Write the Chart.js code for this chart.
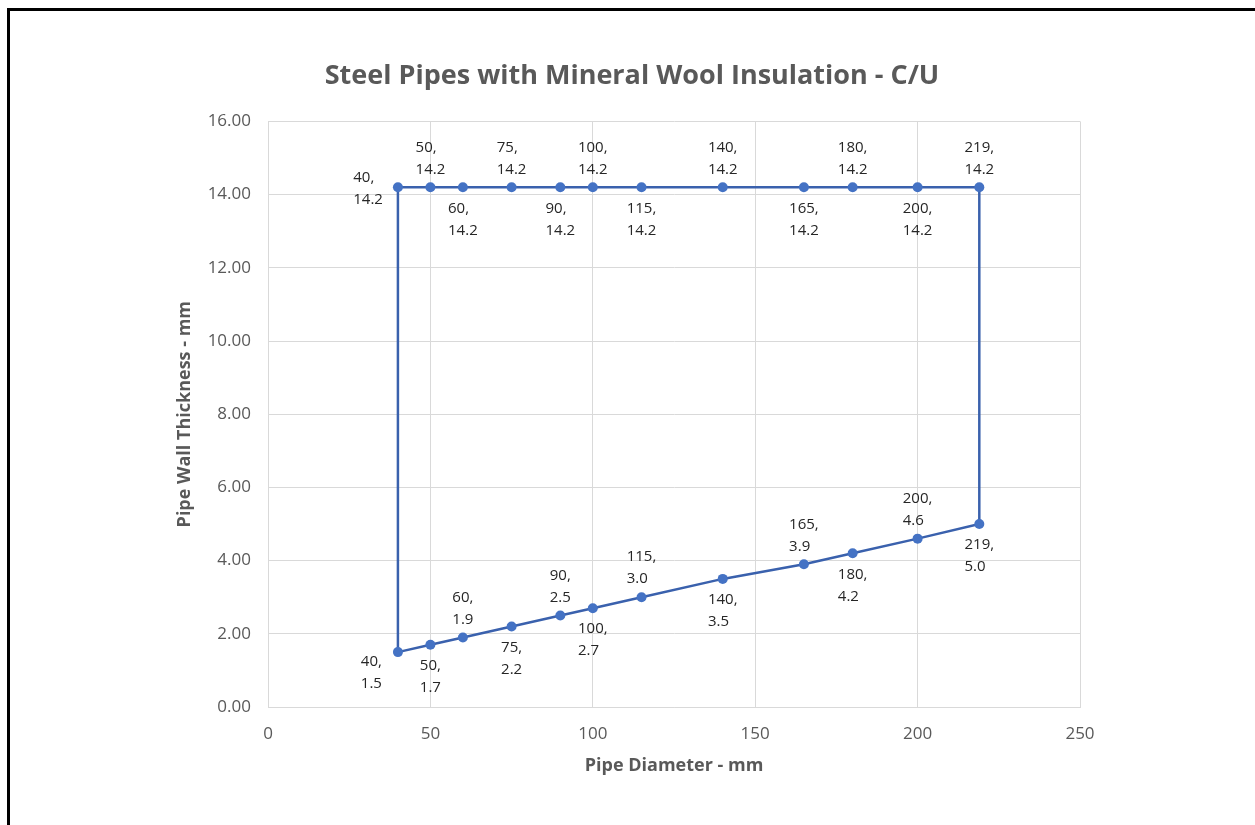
<!DOCTYPE html>
<html>
<head>
<meta charset="utf-8">
<script src="https://cdn.jsdelivr.net/npm/chart.js@4"></script>
<style>
  html, body { margin: 0; padding: 0; background: #fff; }
  #wrap { position: relative; width: 1255px; height: 825px; overflow: hidden; }
  #frame { position: absolute; left: 7px; top: 8px; width: 1300px; height: 900px;
           border-left: 3px solid #000; border-top: 3px solid #000; pointer-events: none; }
  canvas { position: absolute; left: 0; top: 0; }
</style>
</head>
<body>
<div id="wrap">
  <canvas id="chart" width="1255" height="825"></canvas>
  <div id="frame"></div>
</div>
<script>
// Pipe diameters (mm) and the wall thickness envelope (mm)
const diameters = [40, 50, 60, 75, 90, 100, 115, 140, 165, 180, 200, 219];
const minThickness = [1.5, 1.7, 1.9, 2.2, 2.5, 2.7, 3.0, 3.5, 3.9, 4.2, 4.6, 5.0];
const maxThickness = [14.2, 14.2, 14.2, 14.2, 14.2, 14.2, 14.2, 14.2, 14.2, 14.2, 14.2, 14.2];
const xTicks = [0, 50, 100, 150, 200, 250];
const yTicks = [0, 2, 4, 6, 8, 10, 12, 14, 16];

// Where each data label sits relative to its point
const lowerPlacement = ['belowLeft', 'below', 'above', 'below', 'above', 'below', 'above', 'below', 'above', 'below', 'above', 'below'];
const upperPlacement = ['left', 'above', 'below', 'above', 'below', 'above', 'below', 'above', 'below', 'above', 'below', 'above'];

const lowerPts = diameters.map((d, i) => ({ x: d, y: minThickness[i] }));
const upperPts = diameters.map((d, i) => ({ x: d, y: maxThickness[i] }));
// Closed outline: along the lower curve, up the right side, back along the top, down the left side
const outline = lowerPts.concat(upperPts.slice().reverse(), [lowerPts[0]]);

const LINE = '#3a61ad';
const MARK = '#4472c4';

const pointLabels = {
  id: 'pointLabels',
  afterDatasetsDraw(chart) {
    const ctx = chart.ctx;
    ctx.save();
    ctx.font = '15px "Open Sans"';
    ctx.fillStyle = '#262626';
    ctx.textBaseline = 'middle';
    ctx.textAlign = 'left';
    chart.data.datasets.forEach((ds, di) => {
      if (!ds.placement) return;
      const meta = chart.getDatasetMeta(di);
      meta.data.forEach((el, i) => {
        const v = ds.data[i];
        const l1 = v.x + ',';
        const l2 = v.y.toFixed(1);
        const w = Math.max(ctx.measureText(l1).width, ctx.measureText(l2).width);
        let left, y1;
        switch (ds.placement[i]) {
          case 'above': left = el.x - w / 2; y1 = el.y - 40; break;
          case 'below': left = el.x - w / 2; y1 = el.y + 21; break;
          case 'left': left = el.x - 15 - w; y1 = el.y - 10; break;
          case 'belowLeft': left = el.x - 16 - w; y1 = el.y + 10; break;
        }
        ctx.fillText(l1, left, y1);
        ctx.fillText(l2, left, y1 + 22);
      });
    });
    ctx.restore();
  }
};

new Chart(document.getElementById('chart'), {
  type: 'scatter',
  data: {
    datasets: [
      { data: outline, showLine: true, borderColor: LINE, borderWidth: 2.5, pointRadius: 0, pointHoverRadius: 0, order: 2 },
      { data: lowerPts, placement: lowerPlacement, showLine: false, pointRadius: 5, backgroundColor: MARK, borderColor: MARK, borderWidth: 0, order: 1 },
      { data: upperPts, placement: upperPlacement, showLine: false, pointRadius: 5, backgroundColor: MARK, borderColor: MARK, borderWidth: 0, order: 1 }
    ]
  },
  options: {
    responsive: false,
    animation: false,
    events: [],
    layout: { padding: { left: 184, right: 175, top: 0, bottom: 40 } },
    plugins: {
      legend: { display: false },
      tooltip: { enabled: false },
      title: {
        display: true,
        text: 'Steel Pipes with Mineral Wool Insulation - C/U',
        color: '#595959',
        font: { family: '"Open Sans"', size: 27, weight: 'bold' },
        padding: { top: 60, bottom: 29 }
      }
    },
    scales: {
      x: {
        type: 'linear', min: 0, max: 250,
        afterBuildTicks: s => { s.ticks = xTicks.map(v => ({ value: v })); },
        afterFit: s => { s.height = 78; },
        grid: { color: '#d9d9d9', drawTicks: false },
        border: { color: '#d9d9d9' },
        ticks: { color: '#595959', padding: 17, font: { family: '"Open Sans"', size: 17 } },
        title: { display: true, text: 'Pipe Diameter - mm', color: '#595959',
                 font: { family: '"Open Sans"', size: 18, weight: 'bold' }, padding: { top: 0, bottom: 8 } }
      },
      y: {
        type: 'linear', min: 0, max: 16,
        afterBuildTicks: s => { s.ticks = yTicks.map(v => ({ value: v })); },
        afterFit: s => { s.width = 84; },
        grid: { color: '#d9d9d9', drawTicks: false },
        border: { color: '#d9d9d9' },
        ticks: { color: '#595959', padding: 17, font: { family: '"Open Sans"', size: 17 },
                 callback: v => Number(v).toFixed(2) },
        title: { display: true, text: 'Pipe Wall Thickness - mm', color: '#595959',
                 font: { family: '"Open Sans"', size: 18, weight: 'bold' }, padding: { top: -10, bottom: 0 } }
      }
    }
  },
  plugins: [pointLabels]
});
</script>
</body>
</html>
